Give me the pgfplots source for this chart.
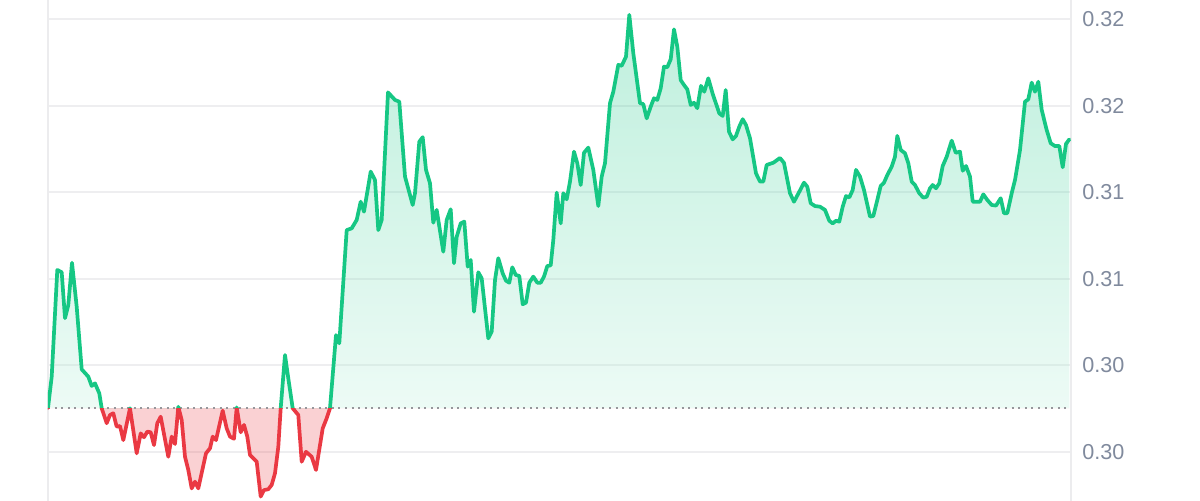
\documentclass[border=0pt]{standalone}
\usepackage{fontspec}
\setmainfont{Liberation Sans}
\usepackage{pgfplots}
\pgfplotsset{compat=1.18}
\usepackage{pgfplotstable}
\definecolor{cgGreen}{RGB}{22,199,132}
\definecolor{cgRed}{RGB}{234,57,67}
\definecolor{gridH}{RGB}{238,238,240}
\definecolor{gridV}{RGB}{236,236,238}
\definecolor{labelGray}{RGB}{128,138,157}
\definecolor{baseGray}{RGB}{150,150,155}
\pgfplotstableread{
t v
0 0.30203
3.7 0.30348
9.3 0.30841
13.7 0.30830
17 0.30618
20.3 0.30679
24 0.30874
28.7 0.30671
33.7 0.30382
40.3 0.30348
43.7 0.30305
47 0.30317
51.3 0.30271
53.7 0.30202
58.7 0.30133
62 0.30171
65.3 0.30179
68.7 0.30117
72 0.30120
75.3 0.30055
82 0.30202
88.7 0.29994
92.7 0.30086
96 0.30068
99.3 0.30094
102.7 0.30091
106 0.30032
109.3 0.30133
112.7 0.30163
120.3 0.29978
123.7 0.30071
127 0.30037
130.3 0.30209
133.7 0.30148
137 0.29978
140.3 0.29917
143.7 0.29832
147 0.29863
150.3 0.29832
158 0.29994
162 0.30017
164.7 0.30071
168 0.30055
174.7 0.30191
178.7 0.30109
182 0.30071
186 0.30061
188.7 0.30206
192.7 0.30091
196 0.30125
199.3 0.30071
202 0.29986
208.7 0.29955
212.7 0.29794
216 0.29824
220.3 0.29828
223.7 0.29848
227 0.29902
230.3 0.30024
232.7 0.30202
237 0.30448
240.3 0.30340
244.7 0.30202
250.3 0.30171
253.7 0.29955
258 0.30001
263.7 0.29978
268 0.29917
274.7 0.30109
278.7 0.30156
282 0.30202
288 0.30540
291.3 0.30502
298.7 0.31025
303.7 0.31033
308.7 0.31072
312.7 0.31156
316 0.31110
322.7 0.31295
327 0.31256
330.3 0.31025
333.7 0.31072
340 0.31661
347 0.31626
351.3 0.31618
357 0.31272
364.7 0.31141
367 0.31195
371.3 0.31433
374.7 0.31454
378 0.31303
382 0.31241
385.3 0.31059
388.7 0.31118
395.3 0.30925
398.7 0.31072
402.7 0.31121
406 0.30872
408.7 0.30994
412.7 0.31056
416.3 0.31064
419.7 0.30856
422.7 0.30887
426 0.30648
430.3 0.30830
433.7 0.30802
440.3 0.30525
443.7 0.30556
447 0.30794
450.3 0.30895
454.7 0.30825
458 0.30791
461.3 0.30782
464.3 0.30853
467.7 0.30818
471.3 0.30813
474.7 0.30682
478 0.30690
481.3 0.30782
485.3 0.30810
489.3 0.30782
492.7 0.30782
496 0.30810
499.3 0.30859
502.7 0.30862
505.3 0.30979
508.7 0.31198
512.7 0.31056
515.3 0.31195
518.7 0.31167
522 0.31249
526 0.31387
529.3 0.31334
532.7 0.31233
536 0.31382
540.3 0.31406
545.3 0.31303
550.3 0.31136
553.7 0.31272
557 0.31334
562 0.31611
565.3 0.31664
570.3 0.31788
573.7 0.31784
578 0.31826
581.3 0.32019
585.3 0.31842
592 0.31611
595.3 0.31607
598.7 0.31541
602.7 0.31595
606 0.31634
609.3 0.31626
612.7 0.31680
616 0.31780
619.3 0.31777
622.7 0.31814
626 0.31952
629.3 0.31872
632.7 0.31718
636 0.31695
639.3 0.31675
642.7 0.31603
646 0.31613
649.3 0.31588
653 0.31691
656.3 0.31664
660.3 0.31726
664.7 0.31654
671.3 0.31564
674.7 0.31552
677.7 0.31672
681 0.31479
684.7 0.31444
688 0.31460
691.3 0.31503
694.7 0.31537
698 0.31510
702 0.31449
708 0.31287
712 0.31249
715.3 0.31249
718.7 0.31326
725.3 0.31336
732 0.31358
736 0.31335
742 0.31195
746 0.31156
751.3 0.31202
756 0.31244
759.3 0.31225
762.7 0.31149
767 0.31136
772 0.31133
777 0.31118
781.3 0.31068
784.7 0.31056
788 0.31068
791.3 0.31064
794.7 0.31133
798 0.31182
801.3 0.31176
804.7 0.31210
808 0.31303
812 0.31272
816 0.31210
822 0.31087
825.3 0.31090
829.3 0.31164
832.7 0.31229
836 0.31244
839.3 0.31279
843.7 0.31318
847 0.31364
849.3 0.31460
852.7 0.31395
857 0.31380
860.3 0.31334
863.7 0.31249
867 0.31233
871.3 0.31195
875.3 0.31175
878.7 0.31179
882 0.31218
884.7 0.31233
888 0.31218
891.3 0.31241
894.7 0.31321
898.7 0.31364
903.7 0.31438
907.7 0.31382
912 0.31387
914.7 0.31299
918 0.31321
922 0.31272
924.7 0.31156
928.7 0.31156
932 0.31156
935.3 0.31190
939.3 0.31164
943.7 0.31141
948 0.31138
952.7 0.31172
956 0.31103
959.3 0.31103
963.7 0.31195
967 0.31256
972 0.31395
977 0.31618
980.3 0.31629
983.7 0.31706
987 0.31664
990.3 0.31710
993.7 0.31580
998.7 0.31487
1002.7 0.31426
1007 0.31413
1011.3 0.31413
1014.7 0.31315
1018 0.31423
1021.3 0.31444
}\pricedata
\begin{document}
\begin{tikzpicture}
\begin{axis}[
  scale only axis, width=511.5pt, height=250.5pt,
  xmin=0, xmax=1023, ymin=0.297737, ymax=0.320877,
  axis line style={draw=none},
  xtick=\empty,
  extra x ticks={0,1023}, extra x tick labels={},
  extra x tick style={grid=major, major grid style={draw=gridV, line width=1pt}},
  ytick={0.300,0.304,0.308,0.312,0.316,0.320},
  yticklabels={0.30,0.30,0.31,0.31,0.32,0.32},
  yticklabel pos=right,
  ymajorgrids, major grid style={draw=gridH, line width=1pt},
  major tick length=0pt,
  yticklabel style={anchor=west, inner sep=0pt, xshift=5.5pt, text=labelGray, font=\fontsize{10.8}{12}\selectfont},
]
\begin{scope}
\clip (axis cs:-20,0.30203) rectangle (axis cs:1040,0.33);
\addplot[draw=none, fill opacity=0.28, top color=cgGreen, bottom color=cgGreen!12!white] table[x=t, y=v] {\pricedata} -- (axis cs:1021.3,0.30203) -- (axis cs:0,0.30203) -- cycle;
\end{scope}
\begin{scope}
\clip (axis cs:-20,0.29) rectangle (axis cs:1040,0.30203);
\addplot[draw=none, fill=cgRed, fill opacity=0.23] table[x=t, y=v] {\pricedata} -- (axis cs:1021.3,0.30203) -- (axis cs:0,0.30203) -- cycle;
\end{scope}
\addplot[draw=baseGray, line width=1pt, dash pattern=on 1pt off 2.3pt] coordinates {(0,0.30203) (1021.3,0.30203)};
\begin{scope}
\clip (axis cs:-20,0.30203) rectangle (axis cs:1040,0.33);
\addplot[cgGreen, line width=1.85pt, line join=round, line cap=round] table[x=t, y=v] {\pricedata};
\end{scope}
\begin{scope}
\clip (axis cs:-20,0.29) rectangle (axis cs:1040,0.30203);
\addplot[cgRed, line width=1.85pt, line join=round, line cap=round] table[x=t, y=v] {\pricedata};
\end{scope}
\end{axis}
\pgfresetboundingbox
\path[use as bounding box] (-24pt,0) rectangle (576pt,250.5pt);
\end{tikzpicture}
\end{document}
